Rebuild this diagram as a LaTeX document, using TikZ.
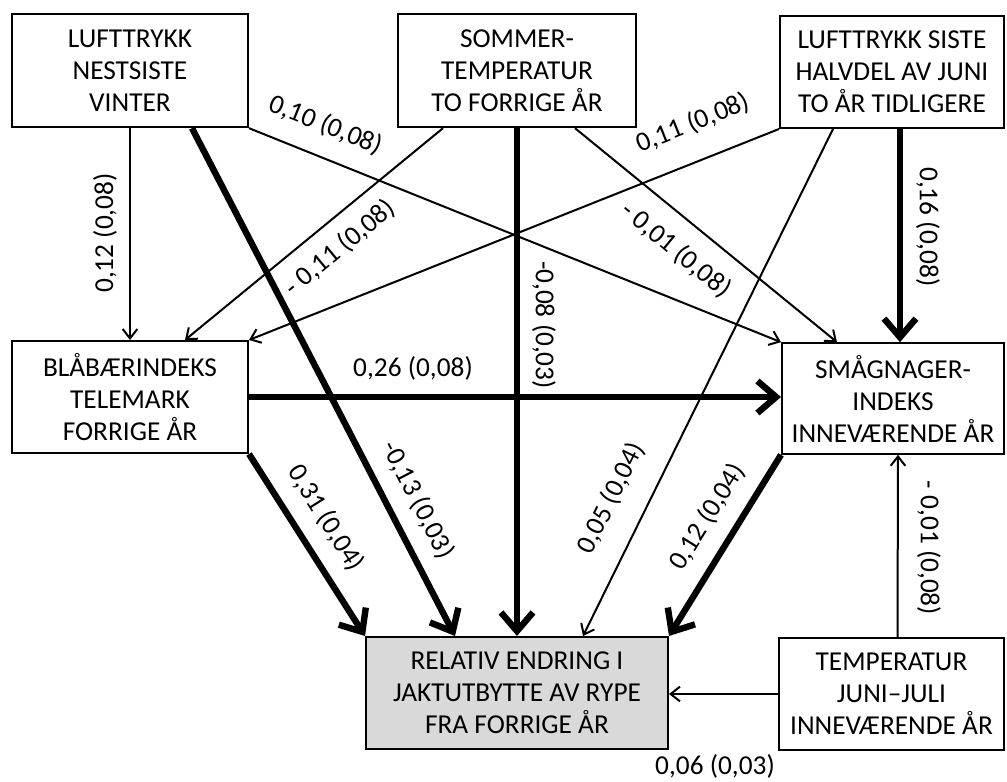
\documentclass[tikz,border=0pt]{standalone}
\usepackage{fontspec}
\setmainfont{Carlito}
\usetikzlibrary{arrows.meta,calc}

\begin{document}
\begin{tikzpicture}[x=0.75pt, y=-0.75pt,
    every node/.style={font=\fontsize{20.5}{24}\selectfont},
    box/.style={draw, line width=1.5pt, align=center, inner sep=2pt},
    result/.style={box, fill=black!15},
    weak/.style={line width=1.5pt, -{Straight Barb[length=7pt,width=11pt]}},
    strong/.style={line width=4.8pt, -{Straight Barb[length=14pt,width=24pt]}},
    coef/.style={inner sep=1pt},
  ]
  \useasboundingbox (0,0) rectangle (1007,782);

  % boxes
  \node[box, minimum width=177pt, minimum height=85pt] (pw) at (130,70.5) {LUFTTRYKK\\NESTSISTE\\VINTER};
  \node[box, minimum width=178.5pt, minimum height=85pt] (st) at (517,70.5) {SOMMER-\\TEMPERATUR\\TO FORRIGE ÅR};
  \node[box, minimum width=168pt, minimum height=84pt] (pj) at (892,72) {LUFTTRYKK SISTE\\HALVDEL AV JUNI\\TO ÅR TIDLIGERE};
  \node[box, minimum width=177pt, minimum height=84pt] (bb) at (130,397) {BLÅBÆRINDEKS\\TELEMARK\\FORRIGE ÅR};
  \node[box, minimum width=166.5pt, minimum height=83pt] (sg) at (893,398.5) {SMÅGNAGER-\\INDEKS\\INNEVÆRENDE ÅR};
  \node[result, minimum width=226.5pt, minimum height=84pt] (ry) at (517,693) {RELATIV ENDRING I\\JAKTUTBYTTE AV RYPE\\FRA FORRIGE ÅR};
  \node[box, minimum width=169pt, minimum height=84pt] (tj) at (891.5,694) {TEMPERATUR\\JUNI–JULI\\INNEVÆRENDE ÅR};

  % paths
  \draw[weak] (pw.south) -- (bb.north);
  \draw[strong] ($(pw.south)+(62,0)$) -- ($(ry.north)+(-62,0)$);
  \draw[weak] (pw.south east) -- (sg.north west);
  \draw[weak] ($(st.south)+(-74,0)$) -- ($(bb.north)+(55,0)$);
  \draw[strong] (st.south) -- (ry.north);
  \draw[weak] ($(st.south)+(58,0)$) -- ($(sg.north)+(-56,0)$);
  \draw[weak] (pj.south west) -- (bb.north east);
  \draw[weak] ($(pj.south)+(-59,0)$) -- ($(ry.north)+(66,0)$);
  \draw[strong] ($(pj.south)+(8,0)$) -- ($(sg.north)+(7,0)$);
  \draw[strong] (bb.east) -- (bb.east -| sg.west);
  \draw[strong] (bb.south east) -- (ry.north west);
  \draw[strong] (sg.south west) -- (ry.north east);
  \draw[weak] ($(tj.north)+(6,0)$) -- ($(sg.south)+(5,0)$);
  \draw[weak] (tj.west) -- (tj.west -| ry.east);

  % coefficients
  \node[coef, rotate=90] (c1) at (105,233) {0,12 (0,08)};
  \node[coef, rotate=-62.7] (c2) at (418,500) {-0,13 (0,03)};
  \node[coef, rotate=-22] (c3) at (326,125) {0,10 (0,08)};
  \node[coef, rotate=39.7] (c4) at (340,248) {- 0,11 (0,08)};
  \node[coef, rotate=-90] (c5) at (544,325) {-0,08 (0,03)};
  \node[coef, rotate=-39.4] (c6) at (676,250) {- 0,01 (0,08)};
  \node[coef, rotate=21.8] (c7) at (693,123) {0,11 (0,08)};
  \node[coef, rotate=63.7] (c8) at (611,498) {0,05 (0,04)};
  \node[coef, rotate=-90] (c9) at (928,227) {0,16 (0,08)};
  \node[coef] (c10) at (413,368) {0,26 (0,08)};
  \node[coef, rotate=-57.5] (c11) at (326,518) {0,31 (0,04)};
  \node[coef, rotate=57.9] (c12) at (707,517) {0,12 (0,04)};
  \node[coef, rotate=-90] (c13) at (929,548) {- 0,01 (0,08)};
  \node[coef] (c14) at (715,766) {0,06 (0,03)};

\end{tikzpicture}
\end{document}
